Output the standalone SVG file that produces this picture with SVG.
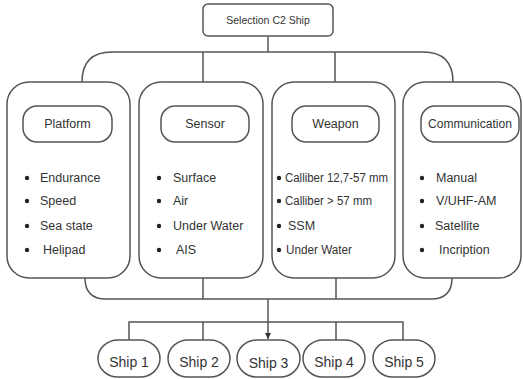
<svg xmlns="http://www.w3.org/2000/svg" width="523" height="379" viewBox="0 0 523 379">
<style>
.box{fill:#fff;stroke:#555;stroke-width:1.5}
.ln{fill:none;stroke:#555;stroke-width:1.5}
text{font-family:"Liberation Sans",Arial,sans-serif;fill:#333}
.t{font-size:10.5px;text-anchor:middle}
.h{font-size:12.5px;text-anchor:middle}
.i{font-size:12.5px}
.w{font-size:12.5px}
.s{font-size:14px;text-anchor:middle}
.b{fill:#222}
</style>
<defs>
<marker id="arr" viewBox="0 0 10 10" refX="10" refY="5" markerWidth="6" markerHeight="6" orient="auto" markerUnits="userSpaceOnUse">
<path d="M0,0 L10,5 L0,10 z" fill="#333"/>
</marker>
</defs>
<rect width="523" height="379" fill="#fff"/>
<g id="connectors">
<path class="ln" d="M268,37 V52"/>
<path class="ln" d="M82,82 Q82,52 112,52 H423 Q453,52 453,82"/>
<path class="ln" d="M203,52 V82 M335,52 V82"/>
<path class="ln" d="M85,278 Q85,299 106,299 H431 Q452,299 452,278"/>
<path class="ln" d="M203,278 V299 M336,278 V299"/>
<path class="ln" d="M268,299 V339" marker-end="url(#arr)"/>
<path class="ln" d="M129,340 V322 H403 V340 M203,322 V340 M336,322 V340"/>
</g>
<g id="title">
<rect class="box" x="203" y="4" width="130" height="32" rx="5"/>
<text class="t" x="268" y="24">Selection C2 Ship</text>
</g>
<g id="platform">
<rect class="box" x="7" y="82" width="123" height="196" rx="22"/>
<rect class="box" x="23" y="106" width="89" height="36" rx="14"/>
<text class="h" x="67.5" y="128">Platform</text>
<circle class="b" cx="27" cy="178" r="2.2"/><text class="i" x="40" y="182">Endurance</text>
<circle class="b" cx="27" cy="201" r="2.2"/><text class="i" x="40" y="205">Speed</text>
<circle class="b" cx="27" cy="226" r="2.2"/><text class="i" x="40" y="230">Sea state</text>
<circle class="b" cx="27" cy="250" r="2.2"/><text class="i" x="43" y="254">Helipad</text>
</g>
<g id="sensor">
<rect class="box" x="139" y="82" width="124" height="196" rx="22"/>
<rect class="box" x="161" y="106" width="88" height="36" rx="14"/>
<text class="h" x="205" y="128">Sensor</text>
<circle class="b" cx="159" cy="178" r="2.2"/><text class="i" x="173" y="182">Surface</text>
<circle class="b" cx="159" cy="201" r="2.2"/><text class="i" x="173" y="205">Air</text>
<circle class="b" cx="159" cy="226" r="2.2"/><text class="i" x="173" y="230">Under Water</text>
<circle class="b" cx="159" cy="250" r="2.2"/><text class="i" x="176" y="254">AIS</text>
</g>
<g id="weapon">
<rect class="box" x="272" y="82" width="123" height="196" rx="22"/>
<rect class="box" x="292" y="106" width="87" height="36" rx="14"/>
<text class="h" x="335.5" y="128">Weapon</text>
<circle class="b" cx="279" cy="178" r="2.2"/><text class="w" x="285" y="182" textLength="103" lengthAdjust="spacingAndGlyphs">Calliber 12,7-57 mm</text>
<circle class="b" cx="279" cy="201" r="2.2"/><text class="w" x="285" y="205" textLength="87" lengthAdjust="spacingAndGlyphs">Calliber &gt; 57 mm</text>
<circle class="b" cx="279" cy="226" r="2.2"/><text class="w" x="288" y="230">SSM</text>
<circle class="b" cx="279" cy="250" r="2.2"/><text class="w" x="286" y="254" textLength="66" lengthAdjust="spacingAndGlyphs">Under Water</text>
</g>
<g id="communication">
<rect class="box" x="403" y="82" width="118" height="196" rx="22"/>
<rect class="box" x="421" y="106" width="98" height="36" rx="14"/>
<text class="h" x="470" y="128" textLength="84" lengthAdjust="spacingAndGlyphs">Communication</text>
<circle class="b" cx="422" cy="178" r="2.2"/><text class="i" x="436" y="182">Manual</text>
<circle class="b" cx="422" cy="201" r="2.2"/><text class="i" x="436" y="205">V/UHF-AM</text>
<circle class="b" cx="422" cy="226" r="2.2"/><text class="i" x="435" y="230">Satellite</text>
<circle class="b" cx="422" cy="250" r="2.2"/><text class="i" x="439" y="254">Incription</text>
</g>
<g id="ship1"><rect class="box" x="98" y="340" width="62" height="37" rx="20"/><text class="s" x="129" y="367">Ship 1</text></g>
<g id="ship2"><rect class="box" x="168" y="340" width="62" height="37" rx="20"/><text class="s" x="199" y="367">Ship 2</text></g>
<g id="ship3"><rect class="box" x="237" y="340" width="63" height="37" rx="20"/><text class="s" x="268.5" y="368">Ship 3</text></g>
<g id="ship4"><rect class="box" x="303" y="340" width="62" height="37" rx="20"/><text class="s" x="334" y="367">Ship 4</text></g>
<g id="ship5"><rect class="box" x="373" y="340" width="62" height="37" rx="20"/><text class="s" x="404" y="367">Ship 5</text></g>
</svg>
